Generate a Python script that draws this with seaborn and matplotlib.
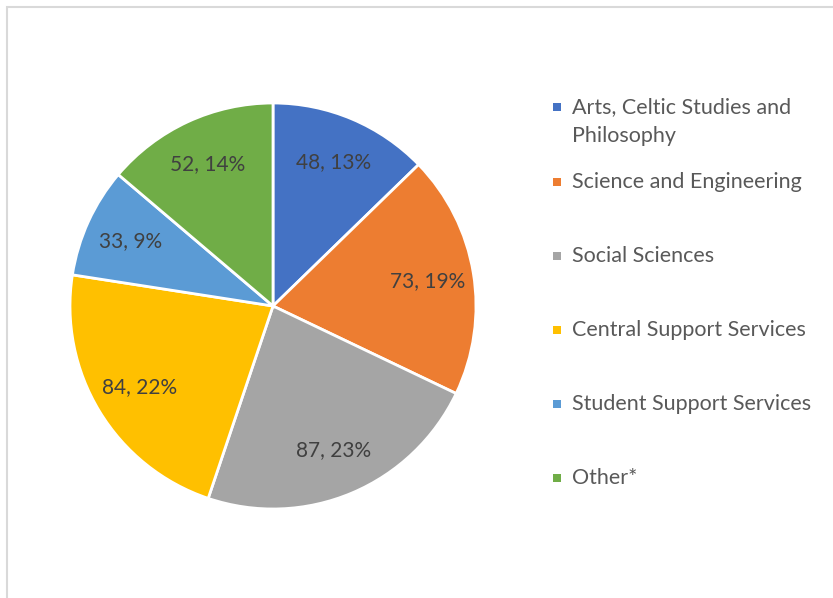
import matplotlib
matplotlib.use("Agg")
import matplotlib.pyplot as plt
from matplotlib.patches import Rectangle
import seaborn as sns

categories = ["Arts, Celtic Studies and\nPhilosophy", "Science and Engineering", "Social Sciences",
              "Central Support Services", "Student Support Services", "Other*"]
values = [48, 73, 87, 84, 33, 52]
colors = ["#4472C4", "#ED7D31", "#A5A5A5", "#FFC000", "#5B9BD5", "#70AD47"]

sns.set_theme(style="white")
plt.rcParams['font.family'] = ['Lato', 'DejaVu Sans']
TXT = "#595959"

W, H = 833, 598
fig = plt.figure(figsize=(W / 100, H / 100), dpi=100)
fig.patch.set_facecolor("white")

# chart area border (cropped)
fig.patches.append(Rectangle((7 / W, -0.1), 1.2, (H - 7) / H + 0.1, transform=fig.transFigure,
                             fill=False, edgecolor="#D9D9D9", linewidth=1.5))

cx, cy, r = 273, 306, 203
ax = fig.add_axes([(cx - r) / W, (H - cy - r) / H, 2 * r / W, 2 * r / H])
total = sum(values)
labels = [f"{v}, {round(v / total * 100)}%" for v in values]
wedges, texts = ax.pie(values, colors=colors, startangle=90, counterclock=False,
                       labels=labels, labeldistance=0.77,
                       wedgeprops=dict(edgecolor="white", linewidth=2),
                       textprops=dict(color="#404040", fontsize=15, ha="center", va="center"))
for t in texts:
    t.set_horizontalalignment("center")
ax.set_xlim(-1.0, 1.0)
ax.set_ylim(-1.0, 1.0)
ax.set_aspect("equal")
ax.axis("off")

# legend
ys = [121.5, 182, 256, 330, 404, 478]
for i, (lab, col) in enumerate(zip(categories, colors)):
    y = ys[i]
    sq_y = 107 if "\n" in lab else y
    fig.patches.append(Rectangle((553 / W, (H - sq_y - 4) / H), 8 / W, 8 / H, transform=fig.transFigure,
                                 facecolor=col, edgecolor="none"))
    fig.text(572 / W, (H - y) / H, lab, color=TXT, fontsize=15.5, ha="left", va="center",
             linespacing=1.6)

fig.savefig("out.png", dpi=100, facecolor="white")
